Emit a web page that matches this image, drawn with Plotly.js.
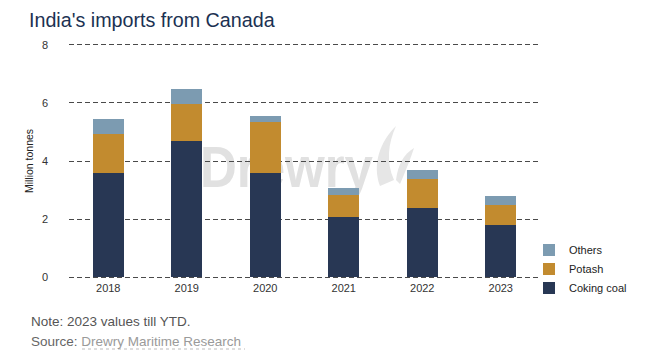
<!DOCTYPE html>
<html>
<head>
<meta charset="utf-8">
<script src="https://cdn.plot.ly/plotly-3.0.1.min.js"></script>
<style>html,body{margin:0;padding:0;background:#fff;}#chart{width:659px;height:362px;}</style>
</head>
<body>
<div id="chart"></div>
<script>
const years = ['2018', '2019', '2020', '2021', '2022', '2023'];
const cokingCoal = [3.59, 4.69, 3.59, 2.08, 2.39, 1.78];
const potash = [1.34, 1.26, 1.77, 0.76, 1.00, 0.71];
const others = [0.52, 0.52, 0.20, 0.24, 0.29, 0.31];
const yTicks = [0, 2, 4, 6, 8];

const FAM = 'Liberation Sans, Arial, sans-serif';
const tickFont = {family: FAM, size: 11, color: '#333'};

const traces = [
  {type: 'bar', name: 'Coking coal', x: years, y: cokingCoal, marker: {color: '#283754'}},
  {type: 'bar', name: 'Potash', x: years, y: potash, marker: {color: '#C28B2F'}},
  {type: 'bar', name: 'Others', x: years, y: others, marker: {color: '#7C9BB1'}}
];

const wmSvg = '<svg xmlns="http://www.w3.org/2000/svg" width="230" height="80" viewBox="0 0 230 80">' +
  '<text x="0" y="67" font-family="Liberation Sans, Arial, sans-serif" font-weight="bold" font-size="58" fill="#e1e1e1" textLength="173" lengthAdjust="spacingAndGlyphs">Drewry</text>' +
  '<path d="M180 66 C172 44 180 22 196 6 C188 24 186 42 194 60 Z" fill="#e6e6e6"/>' +
  '<path d="M196 60 C198 44 204 34 214 28 C210 40 206 50 200 64 Z" fill="#e6e6e6"/>' +
  '</svg>';
const wmSrc = 'data:image/svg+xml;charset=utf-8,' + encodeURIComponent(wmSvg);

// plot area: x 69..540, y 42..280 (range -0.1..8.1 so that 0 -> 277px, 8 -> 45px)
const PL = 69, PR = 540, PT = 42, PB = 280;
const PW = PR - PL, PH = PB - PT;
const px = v => (v - PL) / PW;
const py = v => (PB - v) / PH;

const layout = {
  width: 659, height: 362,
  margin: {l: PL, r: 659 - PR, t: PT, b: 362 - PB, autoexpand: false},
  paper_bgcolor: '#ffffff',
  plot_bgcolor: 'rgba(0,0,0,0)',
  barmode: 'stack',
  bargap: 0.6,
  title: {text: "India's imports from Canada", x: 29/659, xanchor: 'left', xref: 'container', y: 1 - 20/362, yref: 'container', yanchor: 'middle',
          font: {family: FAM, size: 19.7, color: '#1B3152'}},
  font: tickFont,
  xaxis: {type: 'category', showgrid: false, showline: false, zeroline: false, ticks: '', tickfont: tickFont, automargin: false},
  yaxis: {range: [-0.1, 8.1], tickvals: yTicks, ticktext: yTicks.map(String), showline: false, zeroline: false,
          showgrid: true, gridcolor: '#4a4a4a', griddash: '5px,3px', gridwidth: 1, ticks: '', ticklabelstandoff: 20,
          tickfont: tickFont, automargin: false,
          title: {text: 'Million tonnes', standoff: 6, font: {family: FAM, size: 10.5, color: '#222'}}},
  legend: {xref: 'container', yref: 'container', x: 529/659, xanchor: 'left', y: 1 - 269/362, yanchor: 'middle', traceorder: 'reversed',
           font: {family: FAM, size: 11, color: '#222'}, itemwidth: 30, bgcolor: 'rgba(0,0,0,0)'},
  images: [
    {source: wmSrc, xref: 'paper', yref: 'paper', x: px(200), y: py(120), sizex: 230/PW, sizey: 80/PH,
     xanchor: 'left', yanchor: 'top', sizing: 'stretch', layer: 'below'}
  ],
  annotations: [
    {text: 'Note: 2023 values till YTD.', xref: 'paper', yref: 'paper', x: px(29), xanchor: 'left', y: py(321), yanchor: 'middle', showarrow: false,
     font: {family: FAM, size: 13.5, color: '#555'}},
    {text: 'Source: <span style="color:#9a9a9a">Drewry Maritime Research</span>', xref: 'paper', yref: 'paper', x: px(29), xanchor: 'left', y: py(341), yanchor: 'middle', showarrow: false,
     font: {family: FAM, size: 13.5, color: '#666'}}
  ],
  shapes: [
    {type: 'line', xref: 'paper', yref: 'paper', x0: px(82), x1: px(245), y0: py(349), y1: py(349),
     line: {color: '#bbb', width: 1, dash: 'dot'}}
  ]
};

Plotly.newPlot('chart', traces, layout, {displayModeBar: false, staticPlot: true});
</script>
</body>
</html>
